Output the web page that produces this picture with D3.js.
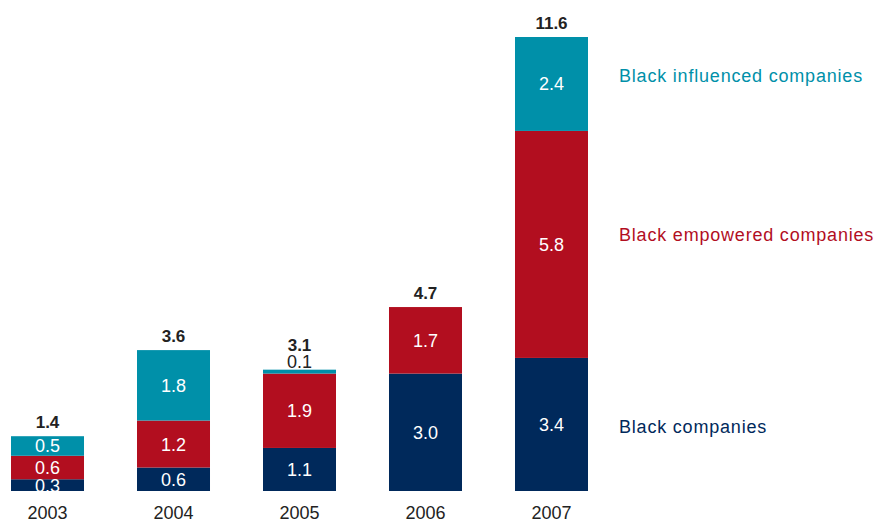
<!DOCTYPE html>
<html>
<head>
<meta charset="utf-8">
<script src="https://cdn.jsdelivr.net/npm/d3@7"></script>
<style>
  html, body { margin: 0; padding: 0; background: #fff; }
  svg { display: block; font-family: "Liberation Sans", Arial, sans-serif; }
</style>
</head>
<body>
<svg id="chart" width="887" height="522"></svg>
<script>
// Years and stacked values (R billion)
const years = ["2003", "2004", "2005", "2006", "2007"];
const blackCompanies = [0.3, 0.6, 1.1, 3.0, 3.4];
const blackEmpowered = [0.6, 1.2, 1.9, 1.7, 5.8];
const blackInfluenced = [0.5, 1.8, 0.1, 0, 2.4];
const totals = [1.4, 3.6, 3.1, 4.7, 11.6];

const seriesKeys = ["companies", "empowered", "influenced"];
const seriesNames = ["Black companies", "Black empowered companies", "Black influenced companies"];
const seriesColors = ["#00295b", "#b20e1f", "#0090a9"];

const rows = years.map((y, i) => ({
  year: y,
  companies: blackCompanies[i],
  empowered: blackEmpowered[i],
  influenced: blackInfluenced[i],
  total: totals[i]
}));

const svg = d3.select("#chart");
const baseY = 491;

const x = d3.scaleBand().domain(years).range([11, 588]).paddingInner(0.4206).paddingOuter(0);
const y = d3.scaleLinear().domain([0, 11.6]).range([baseY, 37]);

const stack = d3.stack().keys(seriesKeys);
const layers = stack(rows);

const g = svg.append("g");

layers.forEach((layer, li) => {
  g.selectAll(null)
    .data(layer.filter(d => d[1] - d[0] > 0))
    .join("rect")
    .attr("x", d => x(d.data.year))
    .attr("width", x.bandwidth())
    .attr("y", d => y(d[1]))
    .attr("height", d => y(d[0]) - y(d[1]))
    .attr("fill", seriesColors[li]);
});

// Segment value labels
layers.forEach((layer, li) => {
  layer.forEach(d => {
    const v = d[1] - d[0];
    if (v <= 0) return;
    const h = y(d[0]) - y(d[1]);
    const cx = x(d.data.year) + x.bandwidth() / 2;
    if (h >= 10) {
      g.append("text")
        .attr("x", cx)
        .attr("y", (y(d[0]) + y(d[1])) / 2)
        .attr("dy", "0.36em")
        .attr("text-anchor", "middle")
        .attr("font-size", 18)
        .attr("fill", "#fff")
        .text(d3.format(".1f")(v));
    } else {
      // thin segment: label sits just above the bar
      g.append("text")
        .attr("x", cx)
        .attr("y", y(d[1]) - 2)
        .attr("text-anchor", "middle")
        .attr("font-size", 18)
        .attr("fill", "#222")
        .text(d3.format(".1f")(v));
    }
  });
});

// Totals
rows.forEach(r => {
  const top = y(r.total);
  const small = r.influenced > 0 && (y(r.total - r.influenced) - top) < 10;
  g.append("text")
    .attr("x", x(r.year) + x.bandwidth() / 2)
    .attr("y", small ? top - 19 : top - 8)
    .attr("text-anchor", "middle")
    .attr("font-size", 17)
    .attr("font-weight", "bold")
    .attr("fill", "#222")
    .text(d3.format(".1f")(r.total));
});

// Year axis
const xAxis = d3.axisBottom(x).tickSize(0).tickPadding(0);
const ax = svg.append("g").attr("transform", `translate(0,${baseY})`).call(xAxis);
ax.select(".domain").remove();
ax.selectAll("text")
  .attr("y", 28)
  .attr("dy", "0")
  .attr("font-size", 18)
  .attr("font-family", "Liberation Sans, Arial, sans-serif")
  .attr("fill", "#222");

// Series labels to the right of the bars
const legendY = [427, 235, 76];
seriesNames.forEach((name, i) => {
  svg.append("text")
    .attr("x", 619)
    .attr("y", legendY[i])
    .attr("dy", "0.36em")
    .attr("font-size", 18)
    .attr("letter-spacing", "0.8px")
    .attr("fill", seriesColors[i])
    .text(name);
});
</script>
</body>
</html>
